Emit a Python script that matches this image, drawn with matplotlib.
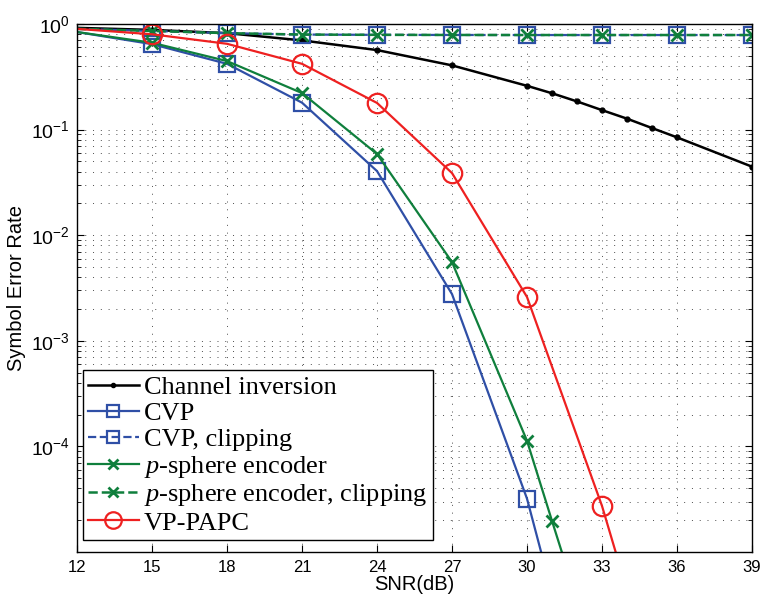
import matplotlib

matplotlib.use("Agg")
import matplotlib.pyplot as plt
import numpy as np

# SNR grids
snr = [12, 15, 18, 21, 24, 27, 30, 33, 36, 39]
snr_ci = [12, 15, 18, 21, 24, 27, 30, 31, 32, 33, 34, 35, 36, 39]
snr_cvp = [12, 15, 18, 21, 24, 27, 30, 33]
snr_psph = [12, 15, 18, 21, 24, 27, 30, 31, 32]
snr_papc = [12, 15, 18, 21, 24, 27, 30, 33, 36]

# symbol error rates
ser_ci = [0.92, 0.88, 0.82, 0.70, 0.567, 0.406, 0.26, 0.221, 0.185, 0.153,
          0.127, 0.1035, 0.0845, 0.0446]
ser_cvp = [0.84, 0.645, 0.42, 0.18, 0.0405, 0.00277, 3.2e-5, 6.6e-8]
ser_cvp_clip = [0.90, 0.86, 0.82, 0.795, 0.79, 0.788, 0.787, 0.787, 0.787, 0.787]
ser_psph = [0.84, 0.665, 0.446, 0.222, 0.0588, 0.00557, 1.13e-4, 1.97e-5, 3.5e-6]
ser_psph_clip = [0.90, 0.86, 0.82, 0.795, 0.79, 0.788, 0.787, 0.787, 0.787, 0.787]
ser_papc = [0.90, 0.80, 0.65, 0.42, 0.179, 0.0388, 0.0026, 2.73e-5, 1.1e-7]

BLUE = "#2f4fa6"
GREEN = "#0f7f3c"
RED = "#ee2020"

plt.rcParams["font.family"] = "Liberation Sans"
plt.rcParams["mathtext.fontset"] = "custom"
plt.rcParams["mathtext.rm"] = "Liberation Sans"
plt.rcParams["mathtext.it"] = "Liberation Serif:italic"

fig = plt.figure(figsize=(7.64, 6.01), dpi=100)
ax = fig.add_axes([0.1008, 0.0815, 0.8835, 0.8785])

ax.plot(snr_ci, ser_ci, "-", color="black", lw=1.8, marker=".", ms=7,
        markevery=list(range(1, len(snr_ci))), label="Channel inversion")
ax.plot(snr_cvp, ser_cvp, "-", color=BLUE, lw=1.6, marker="s", ms=11,
        mfc="none", mew=1.6, markevery=list(range(1, len(snr_cvp))), label="CVP")
ax.plot(snr, ser_cvp_clip, "--", color=BLUE, lw=1.6, marker="s", ms=11,
        mfc="none", mew=1.6, markevery=list(range(1, len(snr))),
        label="CVP, clipping")
ax.plot(snr_psph, ser_psph, "-", color=GREEN, lw=1.6, marker="x", ms=9,
        mew=2.0, markevery=list(range(1, len(snr_psph))),
        label=r"$p$-sphere encoder")
ax.plot(snr, ser_psph_clip, "--", color=GREEN, lw=1.8, marker="x", ms=9,
        mew=2.0, markevery=list(range(1, len(snr))),
        label=r"$p$-sphere encoder, clipping")
ax.plot(snr_papc, ser_papc, "-", color=RED, lw=1.6, marker="o", ms=14,
        mfc="none", mew=1.6, markevery=list(range(1, len(snr_papc))),
        label="VP-PAPC")

ax.set_yscale("log")
ax.set_xlim(12, 39)
ax.set_ylim(1e-5, 1)
ax.set_xticks(range(12, 40, 3))
ax.set_yticks([1e-4, 1e-3, 1e-2, 1e-1, 1e0])
ax.tick_params(which="both", direction="in", top=True, right=True)
ax.tick_params(axis="x", labelsize=12, pad=6)
ax.tick_params(axis="y", labelsize=14, pad=5)
ax.tick_params(which="major", length=5)
ax.tick_params(which="minor", length=3)
grid_ls = (0, (1, 7))
ax.grid(True, which="major", ls=grid_ls, lw=0.7, color="0.3")
ax.grid(True, which="minor", axis="y", ls=grid_ls, lw=0.7, color="0.3")
for s in ax.spines.values():
    s.set_linewidth(1.0)

ax.set_xlabel("SNR(dB)", fontsize=14.5, labelpad=0)
ax.set_ylabel("Symbol Error Rate", fontsize=14.5, labelpad=4)

leg = ax.legend(loc="lower left", bbox_to_anchor=(0.009, 0.023),
                borderaxespad=0, fancybox=False, framealpha=1,
                edgecolor="black", prop={"family": "Liberation Serif",
                                         "size": 19},
                handlelength=1.9, handletextpad=0.2, labelspacing=0.1,
                borderpad=0.2, markerscale=0.85)
leg.get_frame().set_linewidth(1.0)

fig.savefig("out.png", dpi=100)
